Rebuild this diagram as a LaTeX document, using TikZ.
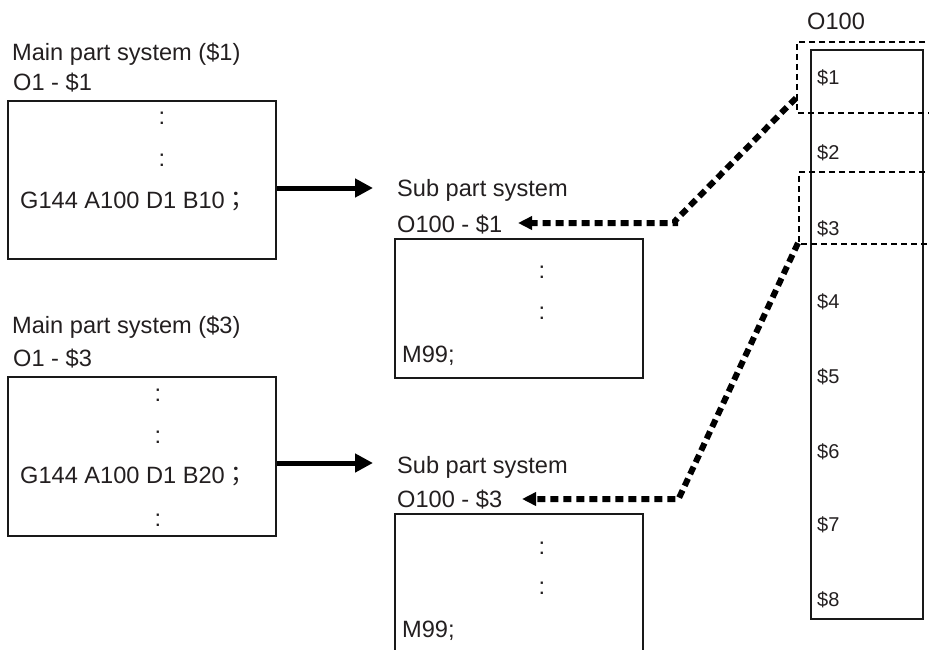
\documentclass[tikz,border=0pt]{standalone}
\usepackage{fontspec}
\setmainfont{Liberation Sans}
\newfontfamily\cjk{Noto Sans CJK JP}
\usetikzlibrary{arrows.meta}
\definecolor{txt}{HTML}{231F20}
\begin{document}
\begin{tikzpicture}[x=1pt,y=-1pt,
  lbl/.style={anchor=base west, inner sep=0pt, text=txt, font=\fontsize{23.6}{28}\selectfont},
  colon/.style={anchor=base, inner sep=0pt, text=txt, font=\fontsize{23.6}{28}\selectfont},
  frame/.style={draw=black!90, line width=2pt, inner sep=0pt},
  bigarrow/.style={line width=5pt, -{Triangle[length=18pt,width=18pt]}},
  dotarrow/.style={line width=6pt, dash pattern=on 8pt off 5pt, -{Triangle[length=14pt,width=13pt]}},
  thindash/.style={line width=1.8pt, dash pattern=on 6pt off 4pt}
]
\useasboundingbox (0,0) rectangle (929,650);

% ---- left column: main part system $1
\node[lbl] (m1t) at (12,61) {Main part system (\$1)};
\node[lbl] (m1o) at (13,91) {O1 - \$1};
\node[frame, minimum width=268pt, minimum height=158pt] (box1) at (142,180) {};
\node[colon] (m1c1) at (162,125) {:};
\node[colon] (m1c2) at (162,167) {:};
\node[lbl] (m1g) at (20,208) {G144 A100 D1 B10{\cjk ；}};

% ---- left column: main part system $3
\node[lbl] (m3t) at (12,333) {Main part system (\$3)};
\node[lbl] (m3o) at (13,366) {O1 - \$3};
\node[frame, minimum width=268pt, minimum height=159pt] (box3) at (142,456.5) {};
\node[colon] (m3c1) at (158,401) {:};
\node[colon] (m3c2) at (158,443) {:};
\node[lbl] (m3g) at (20,483) {G144 A100 D1 B20{\cjk ；}};
\node[colon] (m3c3) at (158,526) {:};

% ---- sub part system $1
\node[lbl] (s1t) at (397,196) {Sub part system};
\node[lbl] (s1o) at (397,232) {O100 - \$1};
\node[frame, minimum width=248pt, minimum height=139pt] (box2) at (519,308.5) {};
\node[colon] (s1c1) at (542,278) {:};
\node[colon] (s1c2) at (542,319) {:};
\node[lbl] (s1m) at (402,362) {M99;};

% ---- sub part system $3
\node[lbl] (s3t) at (397,473) {Sub part system};
\node[lbl] (s3o) at (397,507) {O100 - \$3};
\node[frame, minimum width=248pt, minimum height=140pt] (box4) at (519,584) {};
\node[colon] (s3c1) at (542,554) {:};
\node[colon] (s3c2) at (542,594) {:};
\node[lbl] (s3m) at (402,637) {M99;};

% ---- O100 column
\node[lbl] (col) at (807,30) {O100};
\node[frame, minimum width=112pt, minimum height=569pt] (colbox) at (867,334.5) {};
\foreach \i/\yy in {1/85,2/160,3/235,4/308,5/383,6/458,7/531,8/606}{
  \node[lbl, font=\fontsize{20}{24}\selectfont] (d\i) at (817,\yy) {\$\i};
}

% dashed selection frames
\coordinate (r1a) at (935,42);
\coordinate (r1b) at (797,42);
\coordinate (r1c) at (797,113);
\coordinate (r1d) at (935,113);
\draw[thindash] (r1a) -- (r1b) -- (r1c) -- (r1d);
\coordinate (r2a) at (935,172);
\coordinate (r2b) at (799,172);
\coordinate (r2c) at (799,244);
\coordinate (r2d) at (935,244);
\draw[thindash] (r2a) -- (r2b) -- (r2c) -- (r2d);

% solid call arrows
\coordinate (a1) at (373,188);
\coordinate (a3) at (373,463);
\draw[bigarrow] (box1.east |- a1) -- (a1);
\draw[bigarrow] (box3.east |- a3) -- (a3);

% dotted return arrows
\coordinate (p1s) at (796,98);
\coordinate (p1k) at (675,221);
\coordinate (p1e) at (518,223);
\draw[dotarrow] (p1s) -- (p1k) -- (p1k |- p1e) -- (p1e);
\coordinate (p2s) at (798,243);
\coordinate (p2k) at (679,498);
\coordinate (p2e) at (522,499);
\draw[dotarrow] (p2s) -- (p2k) -- (p2k |- p2e) -- (p2e);
\end{tikzpicture}
\end{document}
